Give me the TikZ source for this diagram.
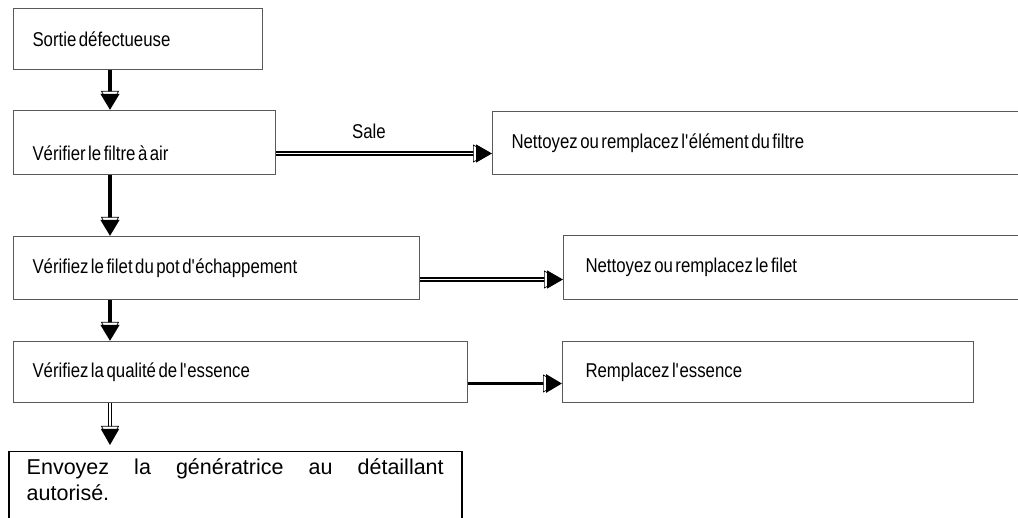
\documentclass[tikz,border=0pt]{standalone}
\usepackage{fontspec}
\setmainfont{Liberation Sans}
\newfontfamily\serre[FakeStretch=0.84]{Liberation Sans}
\usetikzlibrary{arrows.meta}

\tikzset{
  boite/.style={draw=black!65, line width=1pt, anchor=north west, inner xsep=19pt,
    align=left, font=\serre\fontsize{20}{24}\selectfont,
    execute at begin node={\spaceskip=2.5pt plus 1pt minus 1pt}},
  boitefin/.style={draw=black, line width=1.5pt, anchor=north west, inner xsep=18pt,
    inner ysep=7pt, align=justify, font=\fontsize{21.5}{26}\selectfont,
    execute at begin node={\hyphenpenalty=10000}},
  plein/.style={line width=3.5pt},
  creux/.style={double, line width=1.2pt, double distance=1.8pt},
  fleche/.style={-{Triangle[fill=white, line width=0.7pt, length=16pt, width=18pt, sep=-13pt]Triangle[length=16pt, width=18pt]}}
}

\begin{document}
\begin{tikzpicture}[x=1pt,y=-1pt]
    \useasboundingbox (0,0) rectangle (1018,518);
    \clip (0,0) rectangle (1018,518);
    %% Left column
    \node[boite, minimum height=61pt, text width=211pt] (sortie) at (13,8) {Sortie défectueuse};
    \node[boite, minimum height=64pt, text width=224pt, text height=36pt, text depth=0pt] (filtre) at (13,110) {Vérifier le filtre à air};
    \node[boite, minimum height=63pt, text width=368pt] (filet) at (13,236) {Vérifiez le filet du pot d\textquotesingle échappement};
    \node[boite, minimum height=61pt, text width=416pt] (essence) at (13,341) {Vérifiez la qualité de l\textquotesingle essence};
    \node[boitefin, text width=417pt, text depth=60pt] (envoyez) at (8,451) {Envoyez la génératrice au détaillant autorisé.};
    %% Right column
    \node[boite, minimum height=63pt, text width=500pt] (nettfiltre) at (492,111) {Nettoyez ou remplacez l\textquotesingle élément du filtre};
    \node[boite, minimum height=64pt, inner xsep=22pt, text width=423pt] (nettfilet) at (563,235) {Nettoyez ou remplacez le filet};
    \node[boite, minimum height=61pt, inner xsep=23pt, text width=365pt] (remplacer) at (562,341) {Remplacez l\textquotesingle essence};
    %% Vertical arrows
    \coordinate (axe) at (110,0);
    \draw[plein, fleche] (sortie.south -| axe) -- (filtre.north -| axe);
    \draw[plein, fleche] (filtre.south -| axe) -- (filet.north -| axe);
    \draw[plein, fleche] (filet.south -| axe) -- (essence.north -| axe);
    \draw[creux, fleche] (essence.south -| axe) -- ([yshift=6pt]envoyez.north -| axe);
    %% Horizontal arrows
    \draw[creux, fleche] ([yshift=-11pt]filtre.east) -- ([yshift=-11pt]filtre.east -| nettfiltre.west)
      node[pos=0.43, above=11pt, font=\serre\fontsize{20}{24}\selectfont] (sale) {Sale};
    \draw[creux, fleche] ([yshift=-11.5pt]filet.east) -- ([yshift=-11.5pt]filet.east -| nettfilet.west);
    \draw[plein, line width=3pt, fleche] ([yshift=-11.5pt]essence.east) -- ([yshift=-11.5pt]essence.east -| remplacer.west);
\end{tikzpicture}
\end{document}
